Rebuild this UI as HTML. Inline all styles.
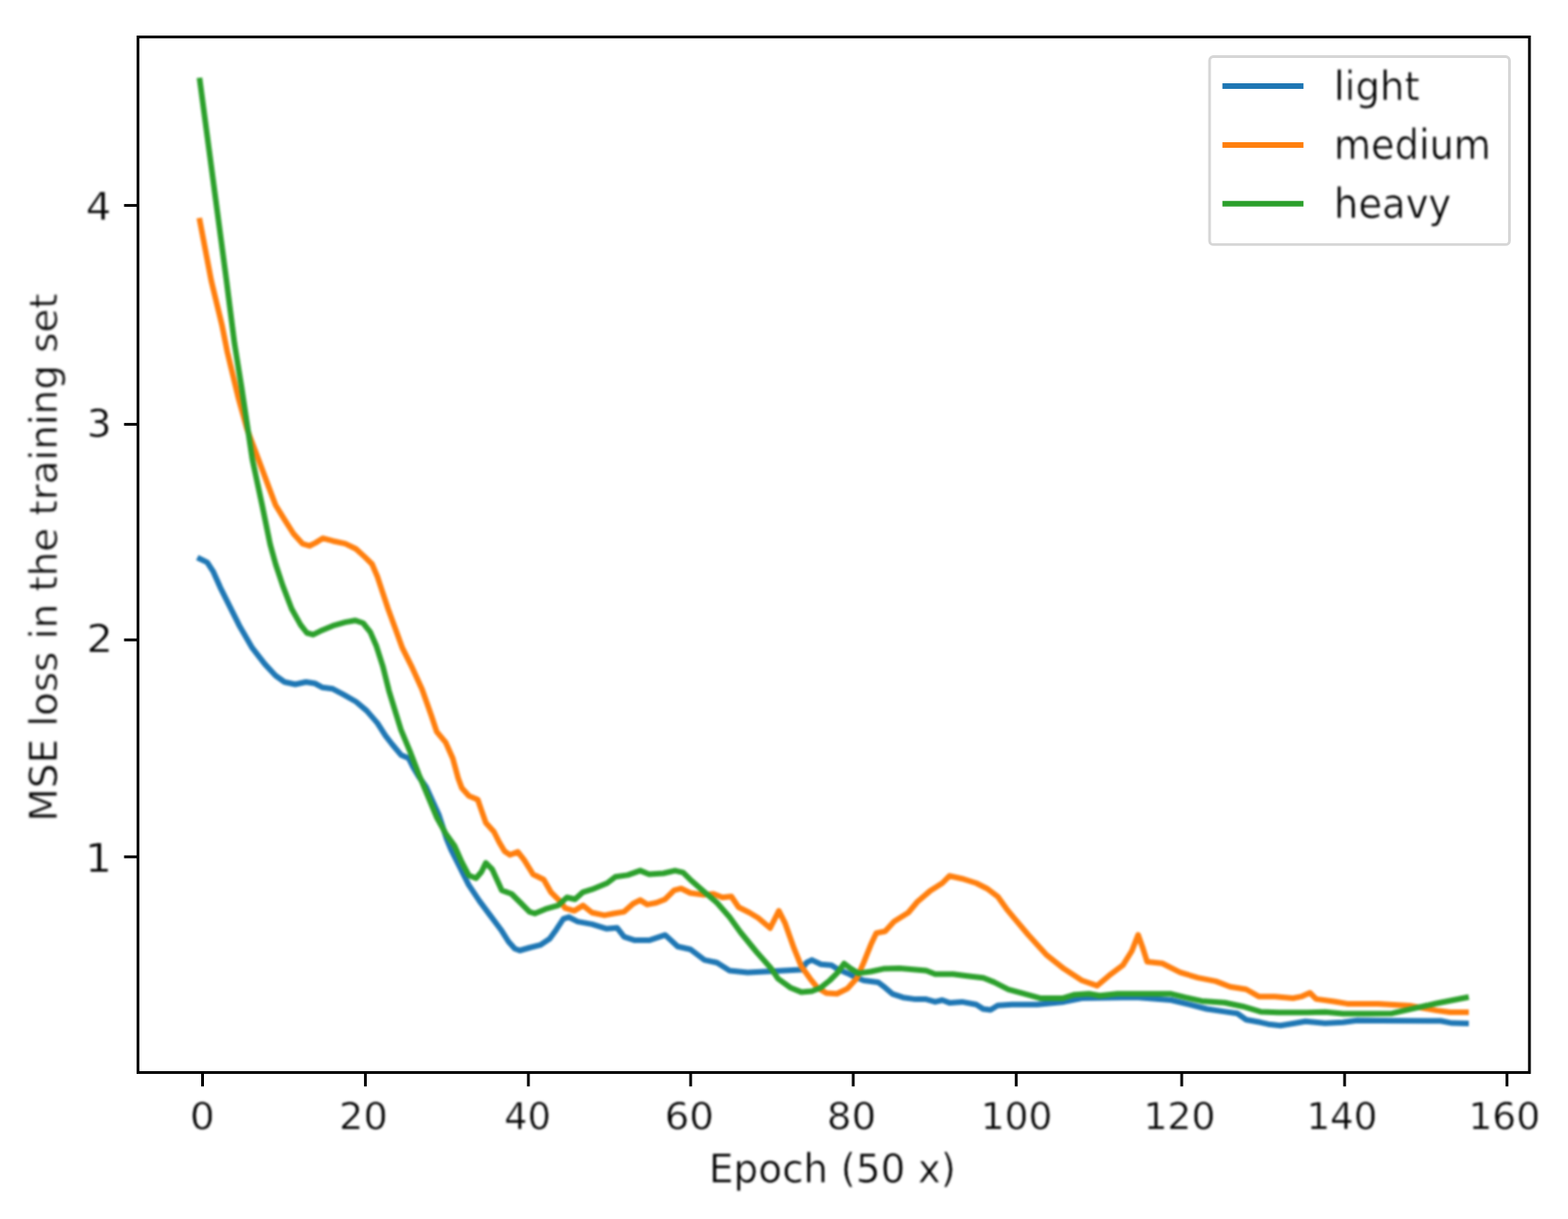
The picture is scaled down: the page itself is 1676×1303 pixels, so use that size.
<!DOCTYPE html>
<html lang="en"><head><meta charset="utf-8"><title>MSE loss in the training set</title>
<style>
html,body{margin:0;padding:0;background:#fff;}
body{width:1676px;height:1303px;overflow:hidden;}
svg{display:block;}
text{font-family:"DejaVu Sans","Liberation Sans",sans-serif;font-size:41.67px;fill:#000;stroke:#fff;stroke-width:0.6px;}
.ln{fill:none;stroke-width:6;stroke-linejoin:round;stroke-linecap:square;}
</style></head><body>
<svg width="1676" height="1303" viewBox="0 0 1676 1303">
<defs><filter id="soft" filterUnits="userSpaceOnUse" x="0" y="0" width="1676" height="1303" color-interpolation-filters="sRGB"><feGaussianBlur stdDeviation="0.8"/></filter></defs>
<rect x="0" y="0" width="1676" height="1303" fill="#fff"/>
<g id="plot" filter="url(#soft)">
<polyline class="ln" stroke="#1f77b4" points="213.6,597.3 221.5,601.1 227.7,610.6 235.4,627.8 244.9,646.9 256.4,669.8 269.7,692.7 283.1,709.9 294.6,722.3 304.1,729.0 315.6,731.5 327.0,729.0 336.6,730.5 344.2,734.7 355.7,736.3 367.1,742.4 380.5,750.0 391.9,759.6 403.4,772.9 412.0,786.3 419.1,795.5 428.6,806.9 436.8,810.5 441.5,820.0 447.5,830.0 455.4,841.1 469.3,871.6 477.5,897.0 482.1,908.1 491.5,926.8 501.0,945.9 512.5,963.1 523.9,978.4 535.4,993.7 543.5,1006.5 550.2,1014.0 555.5,1016.0 566.0,1013.0 577.4,1010.2 587.5,1003.5 594.6,993.7 602.2,982.2 607.9,980.3 617.5,985.1 632.7,987.9 648.0,992.7 659.5,991.7 667.1,1001.3 678.6,1005.1 693.8,1005.1 711.0,999.4 724.4,1011.8 737.8,1014.7 753.0,1026.1 766.4,1029.0 779.8,1037.6 799.1,1039.4 818.2,1038.5 837.3,1037.5 856.4,1036.6 862.1,1028.9 867.8,1026.1 877.4,1030.8 888.8,1031.8 894.6,1035.6 906.0,1040.4 913.7,1044.2 923.2,1048.0 938.5,1049.9 946.1,1055.7 953.7,1062.3 965.2,1066.2 978.6,1068.1 990.0,1068.1 999.6,1070.9 1007.2,1069.0 1014.8,1071.9 1028.2,1070.9 1043.5,1073.8 1051.1,1078.6 1058.8,1079.5 1066.4,1074.8 1081.7,1073.8 1108.6,1073.7 1137.3,1070.9 1156.4,1067.1 1213.7,1066.1 1232.7,1067.6 1251.8,1069.0 1270.9,1073.7 1290.0,1078.5 1309.1,1081.4 1322.5,1083.3 1332.0,1090.0 1347.3,1092.8 1355.3,1094.7 1368.6,1096.2 1383.9,1093.7 1395.4,1091.8 1416.4,1093.7 1435.5,1092.7 1450.7,1090.8 1473.7,1091.0 1540.0,1091.3 1552.0,1093.6 1567.0,1093.9"/>
<polyline class="ln" stroke="#ff7f0e" points="213.6,236.0 225.8,300.0 237.3,347.7 243.0,376.4 254.5,424.1 264.0,458.5 275.5,489.0 286.9,519.6 294.6,540.0 304.1,555.3 313.7,570.5 323.2,581.1 330.8,583.5 337.5,580.1 345.2,575.3 355.7,578.2 369.0,581.1 380.5,586.8 390.0,595.4 397.7,603.0 403.4,616.4 409.1,633.6 414.8,650.7 422.5,671.7 430.1,692.7 439.7,711.8 451.1,736.7 461.1,764.9 466.8,782.1 476.4,793.6 484.0,810.7 489.7,831.7 493.6,842.2 501.2,850.8 510.7,854.7 514.6,866.1 519.3,879.5 527.9,889.0 533.7,900.5 539.4,910.0 545.1,913.8 553.5,910.6 560.2,919.2 569.7,934.5 581.2,940.2 588.8,953.6 598.4,963.1 604.1,970.7 613.7,973.6 623.2,967.9 632.7,975.5 646.1,978.4 655.7,976.5 667.1,974.6 676.7,966.0 684.3,962.1 691.9,966.9 701.5,965.0 711.0,961.2 720.6,951.6 728.2,949.7 737.8,954.5 751.1,956.4 762.6,955.5 772.1,959.3 781.7,958.3 789.5,969.7 801.0,975.5 810.5,981.2 823.2,992.0 832.5,973.6 839.2,986.9 848.7,1013.7 856.4,1032.7 865.9,1046.1 873.6,1055.7 883.1,1061.4 894.6,1062.3 906.0,1056.6 915.6,1046.1 923.2,1028.9 930.8,1009.8 936.6,997.4 946.1,995.5 955.7,985.0 970.9,975.5 980.5,964.0 993.8,952.6 1007.2,944.0 1014.8,936.3 1028.2,939.2 1043.5,944.0 1054.9,949.7 1066.4,958.3 1075.9,971.6 1085.5,983.1 1099.1,999.3 1118.2,1020.3 1137.3,1035.6 1156.4,1048.0 1172.6,1053.7 1185.0,1043.2 1200.3,1031.7 1209.8,1016.5 1216.5,999.3 1221.3,1012.7 1226.1,1027.9 1242.3,1029.8 1261.4,1039.4 1280.5,1045.1 1299.6,1048.9 1314.8,1054.7 1332.0,1057.5 1345.4,1065.2 1362.6,1065.2 1382.0,1067.0 1391.6,1065.1 1400.1,1061.2 1406.8,1067.9 1425.9,1070.5 1440.0,1072.9 1473.0,1073.0 1507.0,1075.0 1535.5,1080.1 1550.0,1082.0 1567.0,1082.0"/>
<polyline class="ln" stroke="#2ca02c" points="213.6,86.0 242.1,300.0 250.6,366.8 258.3,414.6 264.0,452.7 269.7,490.9 280.2,540.0 284.1,559.1 288.8,582.0 294.6,603.0 302.2,625.9 311.7,650.7 321.3,667.9 328.0,676.5 334.7,678.4 342.3,674.6 355.7,668.9 369.0,665.1 379.5,663.2 388.1,666.0 395.8,675.6 402.4,690.8 409.1,711.8 415.8,738.6 423.4,763.4 428.6,780.2 438.2,803.1 447.7,827.9 457.3,850.8 466.8,873.7 476.4,890.9 485.9,904.3 493.6,921.5 501.2,935.8 508.8,938.7 514.6,932.0 519.3,922.4 526.0,929.1 536.3,951.6 546.8,955.5 556.4,965.0 565.9,974.6 571.6,976.5 583.1,971.7 596.5,967.9 606.0,959.3 614.6,961.2 623.2,953.6 632.7,950.7 649.0,944.0 657.6,937.3 670.9,935.4 684.3,930.6 693.8,934.5 709.1,933.5 721.5,930.6 730.1,932.6 737.8,940.2 753.0,953.6 766.4,965.0 779.8,980.3 791.5,996.5 808.6,1017.5 823.9,1034.7 831.6,1046.1 844.9,1055.7 856.4,1060.4 867.8,1059.5 877.4,1055.7 886.9,1048.0 894.6,1040.4 902.2,1029.9 909.8,1035.6 917.5,1040.4 930.8,1038.5 944.2,1035.6 961.4,1035.0 978.6,1036.6 990.0,1037.5 999.6,1041.3 1018.7,1041.3 1033.9,1043.2 1051.1,1045.2 1062.6,1049.9 1077.8,1057.6 1095.3,1062.3 1112.5,1067.1 1135.4,1067.1 1148.7,1063.2 1164.0,1062.3 1175.5,1064.2 1194.6,1062.3 1223.2,1062.3 1251.8,1062.3 1267.1,1066.1 1284.3,1069.9 1309.1,1071.8 1328.2,1075.7 1347.3,1081.4 1366.4,1082.3 1397.3,1082.2 1416.4,1081.7 1435.5,1083.6 1464.1,1083.6 1488.0,1083.2 1507.0,1078.8 1535.5,1072.5 1567.0,1066.3"/>
</g>
<rect x="147.5" y="39.5" width="1487.3" height="1106.9" fill="none" stroke="#000" stroke-width="3.0" stroke-linejoin="miter"/>
<g id="xticks" stroke="#000" stroke-width="3.0">
<line x1="216.5" y1="1146.4" x2="216.5" y2="1161.3"/>
<line x1="390.6" y1="1146.4" x2="390.6" y2="1161.3"/>
<line x1="564.8" y1="1146.4" x2="564.8" y2="1161.3"/>
<line x1="738.2" y1="1146.4" x2="738.2" y2="1161.3"/>
<line x1="912.0" y1="1146.4" x2="912.0" y2="1161.3"/>
<line x1="1086.2" y1="1146.4" x2="1086.2" y2="1161.3"/>
<line x1="1263.1" y1="1146.4" x2="1263.1" y2="1161.3"/>
<line x1="1437.2" y1="1146.4" x2="1437.2" y2="1161.3"/>
<line x1="1610.8" y1="1146.4" x2="1610.8" y2="1161.3"/>
</g><g id="xlabels" filter="url(#soft)">
<text transform="translate(203.00,1207.00) scale(1.0000,0.9400)">0</text>
<text transform="translate(362.30,1207.00) scale(0.9840,0.9400)">20</text>
<text transform="translate(539.12,1207.00) scale(0.9375,0.9400)">40</text>
<text transform="translate(710.52,1207.00) scale(0.9936,0.9400)">60</text>
<text transform="translate(883.77,1207.00) scale(0.9947,0.9400)">80</text>
<text transform="translate(1048.17,1207.00) scale(0.9653,0.9400)">100</text>
<text transform="translate(1222.15,1207.00) scale(0.9694,0.9400)">120</text>
<text transform="translate(1396.53,1207.00) scale(0.9542,0.9400)">140</text>
<text transform="translate(1569.41,1207.00) scale(0.9688,0.9400)">160</text>
</g>
<g id="yticks" stroke="#000" stroke-width="3.0">
<line x1="132.6" y1="219.6" x2="147.5" y2="219.6"/>
<line x1="132.6" y1="453.6" x2="147.5" y2="453.6"/>
<line x1="132.6" y1="684.0" x2="147.5" y2="684.0"/>
<line x1="132.6" y1="915.9" x2="147.5" y2="915.9"/>
</g><g id="ylabels" filter="url(#soft)">
<text transform="translate(91.64,234.80) scale(1.0318,0.9767)">4</text>
<text transform="translate(92.80,466.50) scale(1.0000,0.9600)">3</text>
<text transform="translate(92.61,697.20) scale(1.0632,0.9800)">2</text>
<text transform="translate(90.70,931.70) scale(1.1000,1.0067)">1</text>
</g>
<g id="axislabels" filter="url(#soft)">
<text transform="translate(757.80,1264.48) scale(0.9992,1.0350)">Epoch (50 x)</text>
<text transform="translate(60.80,878.28) rotate(-90) scale(0.9961,1.0000)">MSE loss in the training set</text>
</g>
<g id="legend">
<rect x="1292.9" y="60.5" width="320.5" height="200.9" rx="4" ry="4" fill="#fff" fill-opacity="0.8" stroke="#d6d6d6" stroke-width="2.9"/>
<line x1="1306.6" y1="92.0" x2="1393.3" y2="92.0" stroke="#1f77b4" stroke-width="6"/>
<g filter="url(#soft)"><text transform="translate(1425.77,106.61) scale(0.9943,1.0437)">light</text></g>
<line x1="1306.6" y1="154.9" x2="1393.3" y2="154.9" stroke="#ff7f0e" stroke-width="6"/>
<g filter="url(#soft)"><text transform="translate(1425.83,170.00) scale(0.9802,1.0726)">medium</text></g>
<line x1="1306.6" y1="217.8" x2="1393.3" y2="217.8" stroke="#2ca02c" stroke-width="6"/>
<g filter="url(#soft)"><text transform="translate(1425.80,232.55) scale(0.9876,1.0500)">heavy</text></g>
</g>
</svg></body></html>
